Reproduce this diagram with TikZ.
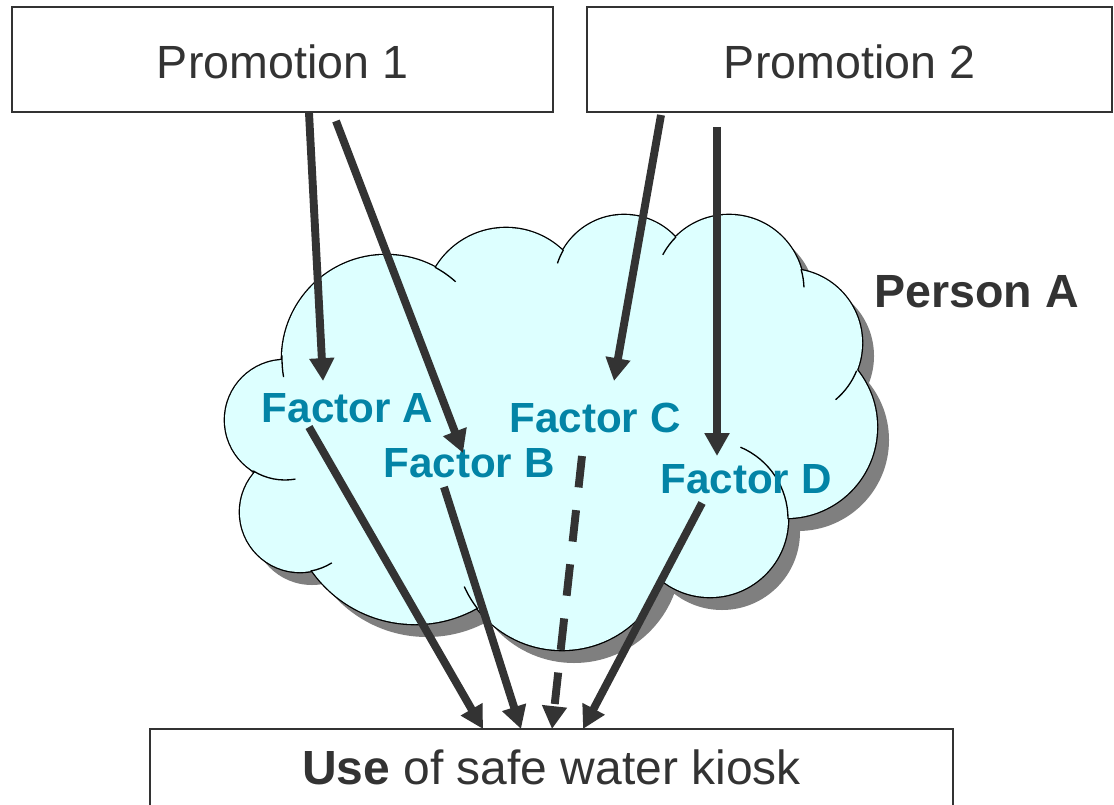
\documentclass[tikz,border=0pt]{standalone}
\usepackage{fontspec}
\setmainfont{Liberation Sans}
\usetikzlibrary{arrows.meta}
\definecolor{dg}{HTML}{333333}
\definecolor{cloudfill}{HTML}{DDFFFF}
\definecolor{shadowgray}{HTML}{7F7F7F}
\definecolor{factorcol}{HTML}{0384A6}
\tikzset{
  promobox/.style={draw=dg, line width=0.9pt, fill=white, minimum width=#1, minimum height=2.1cm,
    text height=21.8pt, text depth=0pt, inner sep=0pt, font=\fontsize{26.5}{30}\selectfont, text=dg},
  factorlbl/.style={anchor=base, inner sep=0pt, text=factorcol, font=\fontsize{24}{28}\selectfont\bfseries},
  arr/.style={draw=dg, line width=4.5pt, -{Triangle[length=13pt, width=13.5pt]}},
  dasharr/.style={arr, dash pattern=on 18pt off 13pt},
  tick/.style={draw=black, line width=0.75pt},
}
\newcommand{\lobes}{%
  (285,420) circle[radius=60]
  (386,359) circle[radius=104]
  (506,310) circle[radius=82]
  (624,285) circle[radius=70]
  (729,290) circle[radius=75]
  (788,343) circle[radius=74]
  (786,427) circle[radius=91]
  (710,519) circle[radius=78]
  (562,543) circle[radius=107]
  (415,498) circle[radius=126]
  (300,512) circle[radius=60]}
\newcommand{\lobecore}{%
  (285,420) -- (386,359) -- (506,310) -- (624,285) -- (729,290) -- (788,343)
  -- (786,427) -- (710,519) -- (562,543) -- (415,498) -- (300,512) -- cycle}
\begin{document}
\begin{tikzpicture}[x=0.02cm, y=-0.02cm]
\useasboundingbox (0,0) rectangle (1114,804);
\clip (0,0) rectangle (1114,804);
% cloud shadow
\begin{scope}[shift={(12,13)}]
  \fill[shadowgray] \lobes;
  \fill[shadowgray] \lobecore;
\end{scope}
% cloud outline (outer half only remains) and fill
\draw[black, line width=1.5pt] \lobes;
\fill[cloudfill] \lobes;
\fill[cloudfill] \lobecore;
% inner arcs of the cloud
\draw[tick] (386,359) ++(182:104) arc[start angle=182, end angle=170, radius=104];
\draw[tick] (285,420) ++(122:60) arc[start angle=122, end angle=80, radius=60];
\draw[tick] (300,512) ++(80:60) arc[start angle=80, end angle=58, radius=60];
\draw[tick] (562,543) ++(142:107) arc[start angle=142, end angle=156, radius=107];
\draw[tick] (562,543) ++(26:107) arc[start angle=26, end angle=14, radius=107];
\draw[tick] (710,519) ++(0:78) arc[start angle=0, end angle=-67, radius=78];
\draw[tick] (788,343) ++(22:74) arc[start angle=22, end angle=50, radius=74];
\draw[tick] (729,290) ++(-16:75) arc[start angle=-16, end angle=-2, radius=75];
\draw[tick] (729,290) ++(-135:75) arc[start angle=-135, end angle=-152, radius=75];
\draw[tick] (624,285) ++(-150:70) arc[start angle=-150, end angle=-162, radius=70];
\draw[tick] (386,359) ++(-62:104) arc[start angle=-62, end angle=-48, radius=104];

% boxes
\node[promobox=10.82cm] (p1) at (282.5,59.5) {Promotion 1};
\node[promobox=10.5cm] (p2) at (849.5,59.5) {Promotion 2};
\node[promobox=16.06cm, minimum height=1.54cm, text height=19.6pt, font=\fontsize{27.3}{31}\selectfont] (use) at (551.5,767.5) {\textbf{Use} of safe water kiosk};

% labels
\node[anchor=base west, inner sep=0pt, text=dg, font=\fontsize{26.5}{30}\selectfont\bfseries] (pa) at (874,307) {Person A};
\node[factorlbl] (fa) at (347.5,422) {Factor A};
\node[factorlbl] (fb) at (469,477) {Factor B};
\node[factorlbl] (fc) at (595,432) {Factor C};
\node[factorlbl] (fd) at (746,493) {Factor D};

% connector ends
\coordinate (a1s) at (309,113);  \coordinate (a1e) at (323,381);
\coordinate (a2s) at (336,121);  \coordinate (a2e) at (463,453);
\coordinate (a3s) at (661,115);  \coordinate (a3e) at (614,381);
\coordinate (a4s) at (717,127);  \coordinate (a4e) at (717,456);
\coordinate (b1s) at (309,427);  \coordinate (b1e) at (483,729);
\coordinate (b2s) at (444,487);  \coordinate (b2e) at (521,729);
\coordinate (b3s) at (582,456);  \coordinate (b3e) at (552,729);
\coordinate (b4s) at (702,503);  \coordinate (b4e) at (583,729);

\draw[arr] (a1s) -- (a1e);
\draw[arr] (a2s) -- (a2e);
\draw[arr] (a3s) -- (a3e);
\draw[arr] (a4s) -- (a4e);
\draw[arr] (b1s) -- (b1e);
\draw[arr] (b2s) -- (b2e);
\draw[dasharr] (b3s) -- (b3e);
\draw[arr] (b4s) -- (b4e);
\end{tikzpicture}
\end{document}
